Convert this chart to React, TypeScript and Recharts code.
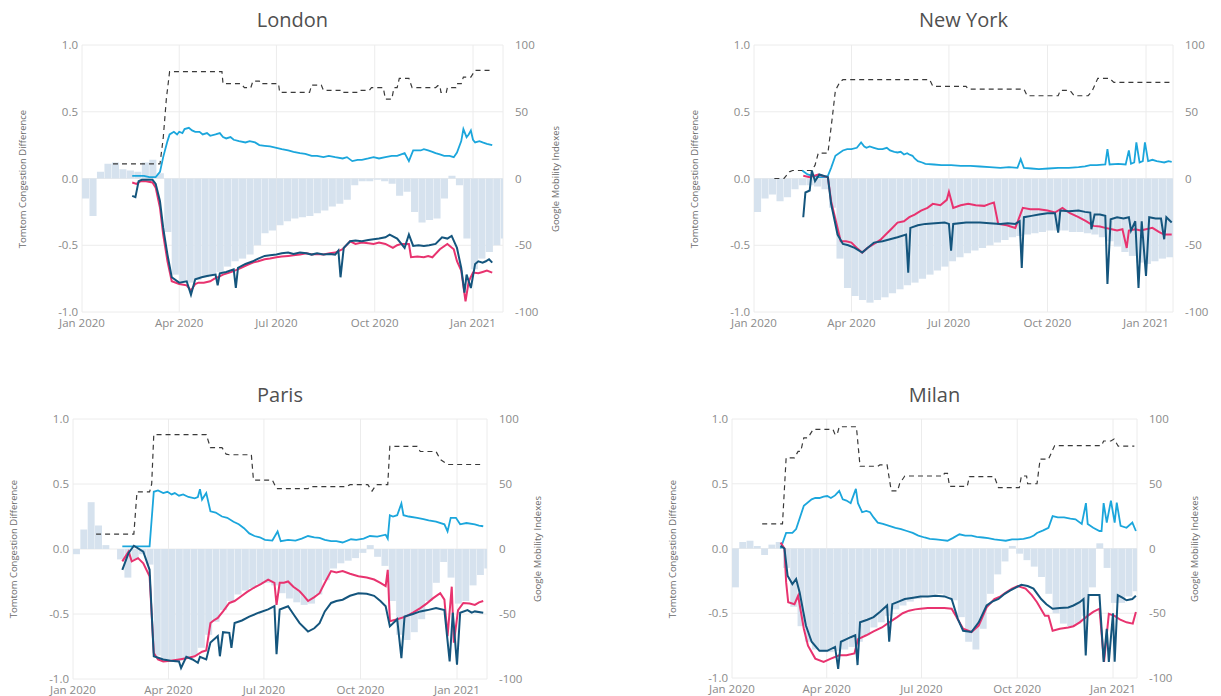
import React from 'react'
import { ComposedChart, Bar, Line, XAxis, YAxis, CartesianGrid } from 'recharts'

// x values are days since 1 Jan 2020
const TICK_DAYS = [0, 91, 182, 274, 366]
const TICK_LABELS = ['Jan 2020', 'Apr 2020', 'Jul 2020', 'Oct 2020', 'Jan 2021']
const LEFT_TICKS = [-1, -0.5, 0, 0.5, 1]
const RIGHT_TICKS = [-100, -50, 0, 50, 100]

// weekly Google mobility bars (week start day)
const WEEK_START = [0, 7, 14, 21, 28, 35, 42, 49, 56, 63, 70, 77, 84, 91, 98, 105, 112, 119, 126, 133, 140, 147, 154, 161, 168, 175, 182, 189, 196, 203, 210, 217, 224, 231, 238, 245, 252, 259, 266, 273, 280, 287, 294, 301, 308, 315, 322, 329, 336, 343, 350, 357, 364, 371, 378, 385, 392]

const LONDON_BARS = [-15, -28, 5, 11, 12, 7, 6, 5, 12, 14, 4, -40, -72, -77, -78, -76, -74, -72, -70, -66, -62, -60, -57, -50, -41, -39, -35, -32, -30, -29, -28, -26, -24, -21, -19, -16, -5, -2, -2, -1, -2, -4, -13, -10, -25, -33, -31, -30, -15, 2, -5, -45, -68, -60, -55, -50, -45]
const NY_BARS = [-25, -15, -12, -17, -14, -8, -5, -5, -6, -8, -22, -60, -82, -88, -91, -93, -91, -89, -86, -83, -80, -78, -75, -72, -69, -66, -62, -59, -56, -54, -52, -50, -48, -46, -44, -43, -42, -41, -40, -39, -39, -39, -40, -40, -41, -42, -44, -47, -51, -55, -58, -63, -64, -62, -60, -59, -58]
const PARIS_BARS = [-4, 15, 36, 18, 3, 0, -8, -22, -8, -4, -12, -82, -86, -86, -86, -84, -82, -76, -66, -56, -47, -40, -35, -32, -30, -27, -26, -28, -34, -38, -41, -43, -42, -35, -24, -15, -11, -9, -7, -3, 3, -6, -13, -40, -66, -70, -64, -54, -40, -26, -10, -22, -42, -40, -28, -20, -15]
const MILAN_BARS = [-30, 5, 6, 2, -5, 3, 5, -15, -45, -60, -72, -78, -80, -80, -79, -78, -76, -72, -67, -61, -57, -52, -47, -44, -41, -39, -37, -36, -35, -37, -40, -53, -72, -78, -62, -35, -20, -10, 2, -4, -9, -14, -22, -35, -50, -58, -60, -58, -52, -30, 4, -15, -42, -42, -37, -33, -31]

// [day, value] — dashed & cyan on the right scale, pink & dark blue on the left scale
const LONDON_DASHED = [[29, 11], [73, 11], [76, 30], [79, 60], [82, 80], [131, 80], [132, 71], [149, 71], [152, 68], [158, 68], [160, 73], [166, 73], [167, 71], [184, 71], [185, 64.5], [213, 64.5], [215, 70], [224, 70], [226, 66], [243, 66], [244, 64.5], [258, 64.5], [260, 66], [269, 66], [271, 68], [282, 68], [284, 59.5], [290, 59.5], [292, 68], [295, 68], [297, 75], [306, 75], [309, 68], [331, 68], [333, 69.5], [335, 69.5], [336, 64.5], [341, 64.5], [342, 68], [350, 68], [351, 71], [355, 71], [357, 76], [364, 76], [368, 81], [384, 81]]
const LONDON_CYAN = [[47, 2], [58, 2], [63, 1], [69, 1], [73, 5], [76, 16], [80, 28], [82, 33], [86, 35], [89, 33], [91, 35], [94, 34], [96, 37], [100, 38], [103, 36], [106, 35], [110, 35], [113, 33], [117, 34], [120, 32], [125, 33], [129, 34], [132, 31], [135, 30], [139, 31], [142, 29], [147, 28], [153, 27], [157, 28], [162, 27], [166, 25], [171, 24.5], [176, 24], [182, 23], [187, 22], [193, 21], [198, 20], [204, 19], [209, 18.5], [215, 17], [220, 17], [226, 16], [231, 17], [237, 16], [244, 15], [248, 16], [253, 13], [258, 14], [262, 14], [268, 15], [273, 16], [278, 15], [284, 16], [290, 17], [295, 17], [302, 19], [306, 13], [310, 21], [317, 21], [320, 22], [324, 21], [328, 20], [331, 19], [335, 18], [339, 17], [344, 17], [348, 16], [351, 19.5], [355, 28], [357, 37], [360, 31], [362, 33], [364, 36], [366, 29], [368, 27], [372, 28], [375, 27], [379, 26], [384, 25]]
const LONDON_PINK = [[47, -0.03], [51, -0.04], [55, -0.02], [60, -0.02], [66, -0.03], [69, -0.07], [73, -0.22], [76, -0.42], [80, -0.62], [84, -0.77], [91, -0.79], [98, -0.8], [102, -0.84], [106, -0.79], [109, -0.78], [114, -0.78], [120, -0.77], [124, -0.75], [127, -0.74], [132, -0.72], [138, -0.705], [143, -0.69], [149, -0.67], [154, -0.65], [160, -0.63], [165, -0.62], [171, -0.605], [176, -0.6], [182, -0.59], [187, -0.585], [193, -0.58], [198, -0.575], [204, -0.57], [210, -0.56], [215, -0.57], [220, -0.565], [226, -0.57], [232, -0.56], [237, -0.555], [244, -0.53], [251, -0.47], [256, -0.49], [262, -0.48], [268, -0.485], [273, -0.49], [278, -0.48], [284, -0.49], [291, -0.52], [295, -0.5], [299, -0.49], [306, -0.49], [308, -0.59], [314, -0.585], [320, -0.59], [324, -0.58], [328, -0.59], [335, -0.53], [342, -0.49], [348, -0.53], [351, -0.62], [355, -0.69], [359, -0.92], [362, -0.77], [366, -0.705], [371, -0.71], [375, -0.7], [379, -0.69], [384, -0.705]]
const LONDON_BLUE = [[47, -0.13], [50, -0.14], [53, -0.02], [56, -0.01], [66, -0.01], [69, -0.04], [73, -0.17], [76, -0.37], [80, -0.57], [84, -0.74], [91, -0.78], [98, -0.77], [102, -0.87], [106, -0.755], [112, -0.74], [117, -0.73], [121, -0.725], [125, -0.72], [127, -0.8], [129, -0.71], [135, -0.7], [142, -0.68], [144, -0.82], [146, -0.67], [153, -0.64], [160, -0.62], [165, -0.6], [171, -0.58], [176, -0.575], [182, -0.57], [187, -0.56], [193, -0.555], [198, -0.565], [204, -0.555], [210, -0.56], [215, -0.57], [220, -0.56], [226, -0.57], [232, -0.565], [237, -0.57], [240, -0.54], [242, -0.74], [245, -0.52], [251, -0.47], [256, -0.465], [262, -0.47], [268, -0.46], [273, -0.455], [278, -0.45], [284, -0.44], [288, -0.42], [295, -0.45], [302, -0.52], [306, -0.42], [310, -0.505], [315, -0.5], [320, -0.505], [325, -0.5], [331, -0.49], [337, -0.44], [342, -0.45], [346, -0.43], [351, -0.52], [355, -0.67], [358, -0.855], [360, -0.72], [364, -0.82], [368, -0.64], [371, -0.62], [375, -0.63], [378, -0.62], [381, -0.605], [384, -0.63]]

const NY_DASHED = [[19, 0], [28, 0], [33, 5], [36, 6], [54, 6], [57, 10], [60, 19], [69, 19], [73, 45], [76, 66], [80, 72], [83, 74], [164, 74], [167, 69], [198, 69], [200, 67], [252, 67], [255, 62], [284, 62], [286, 66], [295, 66], [299, 62], [312, 62], [316, 66], [321, 75], [332, 75], [336, 72], [390, 72]]
const NY_CYAN = [[45, 6], [50, 3], [55, 2], [60, 1], [66, 1], [69, 2], [72, 8], [76, 17], [83, 21], [87, 22], [91, 22], [96, 23], [100, 27], [103, 24], [105, 23], [108, 24], [112, 23], [116, 22], [120, 22], [124, 23], [127, 21], [131, 20], [134, 19.5], [137, 20], [140, 18], [143, 19], [145, 18], [148, 17], [150, 15], [153, 13], [157, 12], [160, 11], [168, 10.5], [175, 10], [184, 10], [193, 9.5], [202, 9.5], [211, 9], [220, 8.5], [230, 8], [238, 8.5], [246, 8], [249, 14.5], [252, 8], [259, 7.5], [266, 7], [275, 7.5], [284, 8], [294, 8], [303, 8.5], [309, 9], [314, 10], [320, 10], [328, 10.5], [330, 22], [332, 10.5], [340, 11], [347, 10.5], [350, 21], [352, 11], [355, 12], [357, 27], [360, 12], [363, 13], [365, 27], [368, 13], [372, 14], [376, 13], [380, 12.5], [383, 12], [387, 13], [390, 12.5]]
const NY_PINK = [[46, 0.02], [52, 0.01], [60, 0.03], [69, 0.01], [72, -0.17], [78, -0.37], [81, -0.47], [86, -0.47], [91, -0.48], [96, -0.52], [101, -0.555], [106, -0.52], [112, -0.49], [118, -0.46], [123, -0.42], [128, -0.38], [134, -0.33], [140, -0.32], [145, -0.29], [150, -0.27], [156, -0.24], [162, -0.22], [167, -0.19], [174, -0.2], [180, -0.16], [182, -0.1], [186, -0.22], [193, -0.2], [200, -0.19], [207, -0.2], [215, -0.205], [220, -0.19], [224, -0.18], [228, -0.34], [236, -0.35], [244, -0.37], [251, -0.22], [258, -0.23], [266, -0.23], [274, -0.24], [281, -0.255], [288, -0.22], [295, -0.26], [303, -0.29], [310, -0.32], [317, -0.355], [323, -0.36], [328, -0.37], [334, -0.38], [339, -0.39], [344, -0.38], [348, -0.52], [350, -0.39], [356, -0.38], [361, -0.39], [366, -0.38], [372, -0.37], [378, -0.4], [383, -0.42], [390, -0.42]]
const NY_BLUE = [[46, -0.29], [48, -0.105], [52, -0.09], [54, 0.06], [57, -0.02], [61, 0.03], [69, 0.01], [72, -0.19], [78, -0.42], [83, -0.49], [88, -0.5], [94, -0.52], [101, -0.555], [106, -0.52], [112, -0.48], [120, -0.47], [127, -0.455], [134, -0.44], [142, -0.42], [144, -0.705], [146, -0.37], [153, -0.35], [160, -0.34], [169, -0.335], [178, -0.33], [182, -0.34], [184, -0.54], [186, -0.34], [198, -0.33], [211, -0.33], [220, -0.335], [230, -0.34], [237, -0.335], [244, -0.34], [248, -0.32], [250, -0.67], [252, -0.29], [259, -0.28], [266, -0.27], [274, -0.26], [281, -0.26], [284, -0.405], [286, -0.24], [294, -0.245], [303, -0.24], [309, -0.25], [314, -0.255], [315, -0.38], [318, -0.27], [323, -0.27], [328, -0.28], [330, -0.79], [333, -0.305], [339, -0.29], [345, -0.3], [350, -0.29], [352, -0.39], [356, -0.32], [359, -0.82], [362, -0.32], [366, -0.73], [369, -0.29], [375, -0.3], [380, -0.3], [383, -0.455], [385, -0.29], [390, -0.33]]

const PARIS_DASHED = [[22, 11.5], [58, 11.5], [61, 44], [73, 44], [75, 50], [77, 88], [127, 88], [131, 78], [142, 78], [146, 73], [149, 72.5], [170, 72.5], [172, 53], [190, 53], [194, 46.5], [224, 46.5], [227, 48], [261, 48], [264, 49.5], [281, 49.5], [285, 44.5], [289, 49.5], [300, 49.5], [302, 79], [328, 79], [331, 75], [346, 75], [350, 69], [357, 65], [391, 65]]
const PARIS_CYAN = [[47, 2], [73, 2], [77, 44], [81, 45], [86, 43], [90, 44], [94, 42], [97, 43], [101, 41], [105, 42], [110, 40], [116, 39], [119, 40], [121, 46], [123, 38], [127, 43], [131, 29], [136, 28], [142, 25], [147, 24], [153, 21], [158, 19], [163, 16], [168, 12], [173, 10], [178, 9], [183, 7], [190, 6.5], [195, 13.5], [198, 6], [205, 7], [212, 6.5], [218, 8], [224, 10], [230, 9], [235, 8.5], [240, 7], [246, 6], [251, 6], [257, 5], [265, 7.5], [270, 7], [277, 8], [283, 10], [290, 9.5], [298, 11], [300, 8], [302, 26], [305, 25], [309, 26], [313, 35], [315, 26], [320, 25], [328, 24], [334, 23], [339, 22], [346, 21], [354, 19], [357, 13.5], [360, 24], [365, 24], [369, 19], [375, 20], [383, 19], [387, 18], [391, 17.5]]
const PARIS_PINK = [[47, -0.095], [53, -0.02], [56, -0.095], [62, -0.07], [67, -0.11], [73, -0.21], [77, -0.8], [81, -0.85], [86, -0.865], [93, -0.86], [101, -0.85], [108, -0.84], [116, -0.825], [123, -0.79], [127, -0.78], [131, -0.57], [134, -0.55], [138, -0.53], [143, -0.48], [149, -0.415], [154, -0.4], [160, -0.365], [166, -0.33], [172, -0.3], [179, -0.27], [186, -0.235], [192, -0.26], [194, -0.43], [197, -0.26], [201, -0.26], [205, -0.25], [210, -0.29], [216, -0.325], [220, -0.36], [224, -0.4], [230, -0.37], [235, -0.34], [240, -0.26], [246, -0.17], [251, -0.18], [257, -0.17], [264, -0.19], [272, -0.21], [280, -0.22], [287, -0.235], [293, -0.26], [298, -0.285], [300, -0.16], [302, -0.555], [309, -0.54], [317, -0.52], [324, -0.49], [331, -0.455], [337, -0.42], [343, -0.38], [350, -0.34], [354, -0.39], [357, -0.67], [361, -0.29], [363, -0.72], [367, -0.47], [372, -0.415], [378, -0.42], [383, -0.43], [387, -0.41], [391, -0.4]]
const PARIS_BLUE = [[47, -0.16], [53, -0.03], [58, 0.025], [67, -0.02], [73, -0.16], [77, -0.825], [86, -0.85], [93, -0.86], [101, -0.865], [103, -0.915], [108, -0.83], [114, -0.85], [119, -0.875], [121, -0.83], [127, -0.85], [131, -0.72], [138, -0.67], [140, -0.825], [143, -0.64], [149, -0.645], [151, -0.76], [154, -0.57], [161, -0.55], [168, -0.52], [177, -0.49], [186, -0.465], [192, -0.44], [194, -0.81], [197, -0.465], [205, -0.44], [210, -0.5], [216, -0.57], [224, -0.635], [230, -0.61], [235, -0.57], [240, -0.48], [246, -0.415], [251, -0.4], [257, -0.39], [264, -0.36], [272, -0.34], [280, -0.345], [287, -0.36], [293, -0.4], [298, -0.44], [302, -0.595], [309, -0.54], [313, -0.84], [316, -0.52], [324, -0.5], [331, -0.48], [338, -0.47], [346, -0.455], [354, -0.47], [359, -0.865], [362, -0.49], [366, -0.89], [369, -0.49], [376, -0.47], [380, -0.49], [383, -0.48], [391, -0.49]]

const MILAN_DASHED = [[29, 19], [48.5, 19], [52, 70], [60, 70], [63.5, 75], [66, 75], [69, 85.5], [73, 85.5], [78, 92], [97, 92], [99, 88], [101, 88], [103, 94], [119.5, 94], [123, 63.5], [140, 63.5], [142, 64.5], [149, 64.5], [153, 44.5], [159, 44.5], [161, 50], [166, 56], [203, 56], [204, 58], [207, 58], [209, 48], [226, 48], [228, 55.5], [252, 55.5], [256, 47], [276, 47], [278, 56], [283, 56], [284, 50], [293, 50], [296, 69], [304, 69], [310, 79.5], [355, 79.5], [357, 83], [364, 83], [367, 84.5], [371, 79], [386.5, 79]]
const MILAN_CYAN = [[46.7, 0], [52, 12], [58, 12], [61.6, 15], [69, 33], [76.5, 38], [80, 39], [84, 39], [88, 40], [91.5, 40.5], [95, 39], [99, 41], [103, 44.5], [106.4, 38], [110, 37], [114, 35], [119, 46], [121, 35], [125, 28], [129, 29], [132.6, 28], [136, 24], [140, 20], [145, 19], [151, 17.5], [157, 16], [162.4, 15], [168, 13.5], [173.6, 12], [179, 10], [185, 8.5], [190, 7.5], [196, 7], [202, 6.5], [207, 6], [212, 8], [218.5, 11], [224, 10], [230, 10], [235, 9], [241, 8.5], [246, 8], [252, 7], [258, 6.5], [263, 6], [269, 7], [274.5, 7], [280, 7.5], [286, 8.5], [290, 10], [293, 12], [299, 14], [304, 16], [308, 25], [313, 24], [319, 24], [325, 23], [330, 22.5], [336, 19], [340, 35], [341.7, 19], [347, 16], [353, 13.5], [355, 13.5], [357, 35], [360, 20], [364, 37], [367.6, 20], [369.6, 35.5], [373.3, 17.5], [379, 16], [384.6, 20], [388, 13.5]]
const MILAN_PINK = [[46.7, 0.045], [50.4, 0], [52, -0.26], [54, -0.415], [60, -0.43], [63.5, -0.365], [69, -0.62], [73, -0.75], [80, -0.85], [88, -0.875], [95, -0.85], [103, -0.825], [110, -0.825], [117.6, -0.81], [121, -0.7], [129, -0.67], [136, -0.64], [144, -0.61], [151, -0.57], [158.7, -0.53], [164, -0.5], [170, -0.48], [176, -0.47], [181, -0.465], [188, -0.46], [196, -0.46], [204, -0.46], [211, -0.465], [215, -0.52], [222, -0.62], [230, -0.645], [237, -0.595], [244.6, -0.455], [252, -0.39], [258, -0.37], [263, -0.34], [269, -0.31], [274.5, -0.29], [282, -0.31], [288, -0.36], [293, -0.415], [300.6, -0.52], [304, -0.52], [308, -0.635], [315, -0.62], [323, -0.61], [328, -0.6], [334, -0.57], [341.7, -0.52], [347, -0.49], [353, -0.465], [357.4, -0.875], [362, -0.505], [367.6, -0.52], [373, -0.55], [379, -0.57], [385, -0.58], [388, -0.49]]
const MILAN_BLUE = [[46.7, 0.02], [50.4, 0], [53.4, -0.21], [58, -0.275], [61.6, -0.235], [65, -0.34], [71, -0.595], [76.5, -0.72], [84, -0.79], [91.5, -0.79], [99, -0.76], [102, -0.93], [104.6, -0.72], [110, -0.7], [114, -0.685], [118.4, -0.67], [120.6, -0.9], [123, -0.57], [130, -0.55], [136, -0.53], [142, -0.49], [149, -0.44], [151, -0.72], [154, -0.43], [160, -0.41], [166, -0.39], [174, -0.38], [181, -0.37], [188, -0.37], [196, -0.365], [204, -0.37], [211, -0.39], [217, -0.545], [222, -0.635], [230, -0.645], [237, -0.57], [244.6, -0.44], [250, -0.41], [256, -0.39], [262, -0.35], [267, -0.325], [273, -0.3], [278, -0.28], [284, -0.29], [289.6, -0.31], [297, -0.39], [302, -0.43], [308, -0.465], [315, -0.46], [323, -0.455], [328, -0.44], [334, -0.415], [337.7, -0.39], [339.8, -0.825], [342.5, -0.36], [348, -0.36], [353, -0.36], [357, -0.875], [360, -0.62], [362, -0.875], [366, -0.5], [367.6, -0.875], [370.6, -0.36], [375, -0.38], [379, -0.4], [384.6, -0.39], [388, -0.365]]

const COLORS = { bar: '#d6e2ee', dashed: '#3a3a3a', cyan: '#1ba6dc', pink: '#e8336f', blue: '#14557d', grid: '#ececec', tick: '#8a8a8a', title: '#505050' }
const FONT = '"Open Sans", "Noto Sans", sans-serif'

const PANELS = [
  { title: 'London', bars: LONDON_BARS, dashed: LONDON_DASHED, cyan: LONDON_CYAN, pink: LONDON_PINK, blue: LONDON_BLUE,
    l: 82, r: 503, t: 45, b: 312, jan21: 473, titleY: 20, leftTitleX: 23, rightTitleX: 556 },
  { title: 'New York', bars: NY_BARS, dashed: NY_DASHED, cyan: NY_CYAN, pink: NY_PINK, blue: NY_BLUE,
    l: 754, r: 1173, t: 45, b: 312, jan21: 1146, titleY: 20, leftTitleX: 695, rightTitleX: null },
  { title: 'Paris', bars: PARIS_BARS, dashed: PARIS_DASHED, cyan: PARIS_CYAN, pink: PARIS_PINK, blue: PARIS_BLUE,
    l: 73, r: 487, t: 419, b: 679, jan21: 457, titleY: 395, leftTitleX: 14, rightTitleX: 538 },
  { title: 'Milan', bars: MILAN_BARS, dashed: MILAN_DASHED, cyan: MILAN_CYAN, pink: MILAN_PINK, blue: MILAN_BLUE,
    l: 732, r: 1137, t: 419, b: 678, jan21: 1113, titleY: 395, leftTitleX: 673, rightTitleX: 1195 },
]

const toPoints = (pairs: number[][]) => pairs.map(([x, v]) => ({ x, v }))

const LEFT_W = 40
const RIGHT_W = 40
const X_H = 30
const TOP_PAD = 10

function Panel({ p }: { p: (typeof PANELS)[number] }) {
  const pxPerDay = (p.jan21 - p.l) / 366
  const xMax = (p.r - p.l) / pxPerDay
  const width = p.r - p.l + LEFT_W + RIGHT_W
  const height = p.b - p.t + X_H + TOP_PAD
  const barData = WEEK_START.map((d, i) => ({ x: d + 3.5, v: p.bars[i] })).filter((d) => d.x - 3.5 < xMax)
  const tick = { fill: COLORS.tick, fontSize: 11.5, fontFamily: FONT }
  const cy = (p.t + p.b) / 2
  const axisTitle = { position: 'absolute' as const, top: cy, transform: 'translate(-50%, -50%) rotate(-90deg)', fontSize: 9.5, lineHeight: 1, color: '#6a6a6a', whiteSpace: 'nowrap' as const }
  return (
    <>
      <div style={{ position: 'absolute', left: (p.l + p.r) / 2, top: p.titleY, transform: 'translate(-50%, -50%)', fontSize: 20, lineHeight: 1, color: COLORS.title, whiteSpace: 'nowrap' }}>
        {p.title}
      </div>
      <div style={{ ...axisTitle, left: p.leftTitleX }}>Tomtom Congestion Difference</div>
      {p.rightTitleX !== null && <div style={{ ...axisTitle, left: p.rightTitleX }}>Google Mobility Indexes</div>}
      <div style={{ position: 'absolute', left: p.l - LEFT_W, top: p.t - TOP_PAD }}>
        <ComposedChart width={width} height={height} data={barData} margin={{ top: TOP_PAD, right: 0, bottom: 0, left: 0 }}>
          <CartesianGrid yAxisId="l" xAxisId="t" stroke={COLORS.grid} strokeWidth={1} />
          <XAxis xAxisId="t" dataKey="x" type="number" domain={[0, xMax]} allowDataOverflow ticks={TICK_DAYS} interval={0}
            tickFormatter={(v) => TICK_LABELS[TICK_DAYS.indexOf(v)]} axisLine={false} tickLine={false}
            tickSize={0} tickMargin={7} height={X_H} tick={tick} />
          <XAxis xAxisId="w" dataKey="x" type="number" domain={[0, xMax]} allowDataOverflow hide />
          <YAxis yAxisId="l" orientation="left" width={LEFT_W} domain={[-1, 1]} ticks={LEFT_TICKS} interval={0}
            tickFormatter={(v) => Number(v).toFixed(1)} axisLine={false} tickLine={false} tickSize={0} tickMargin={4} tick={tick} />
          <YAxis yAxisId="r" orientation="right" width={RIGHT_W} domain={[-100, 100]} ticks={RIGHT_TICKS} interval={0}
            axisLine={false} tickLine={false} tickSize={0} tickMargin={12} tick={tick} />
          <Bar xAxisId="w" yAxisId="r" dataKey="v" fill={COLORS.bar} barSize={pxPerDay * 7 - 0.4} isAnimationActive={false} />
          <Line xAxisId="t" yAxisId="r" data={toPoints(p.dashed)} dataKey="v" type="linear" stroke={COLORS.dashed} strokeWidth={1.2}
            strokeDasharray="5 4" dot={false} activeDot={false} isAnimationActive={false} />
          <Line xAxisId="t" yAxisId="r" data={toPoints(p.cyan)} dataKey="v" type="linear" stroke={COLORS.cyan} strokeWidth={1.8}
            dot={false} activeDot={false} isAnimationActive={false} />
          <Line xAxisId="t" yAxisId="l" data={toPoints(p.pink)} dataKey="v" type="linear" stroke={COLORS.pink} strokeWidth={2}
            dot={false} activeDot={false} isAnimationActive={false} />
          <Line xAxisId="t" yAxisId="l" data={toPoints(p.blue)} dataKey="v" type="linear" stroke={COLORS.blue} strokeWidth={2}
            dot={false} activeDot={false} isAnimationActive={false} />
        </ComposedChart>
      </div>
    </>
  )
}

export default function App() {
  return (
    <div style={{ position: 'absolute', left: 0, top: 0, width: 1221, height: 696, background: '#fff', fontFamily: FONT, overflow: 'hidden' }}>
      {PANELS.map((p) => (
        <Panel key={p.title} p={p} />
      ))}
    </div>
  )
}
